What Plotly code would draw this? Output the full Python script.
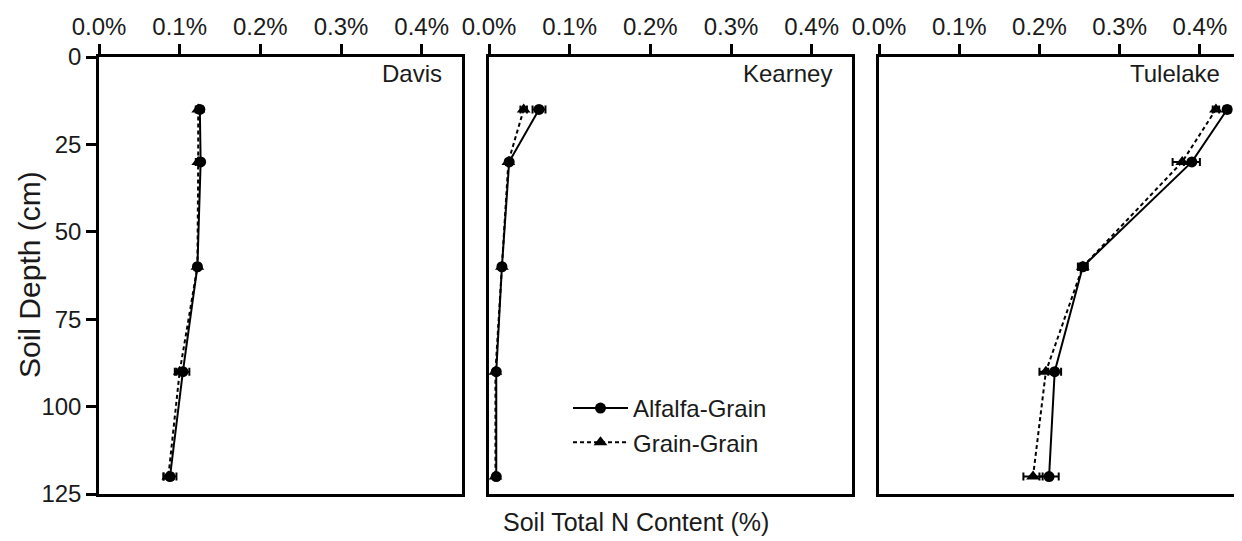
import plotly.graph_objects as go

depth = [15, 30, 60, 90, 120]
sites = ["Davis", "Kearney", "Tulelake"]

alfalfa = {
    "Davis":    [0.125, 0.126, 0.122, 0.104, 0.088],
    "Kearney":  [0.062, 0.025, 0.016, 0.009, 0.009],
    "Tulelake": [0.434, 0.390, 0.254, 0.219, 0.212],
}
alfalfa_err = {
    "Davis":    [0.003, 0.003, 0.003, 0.008, 0.008],
    "Kearney":  [0.008, 0.003, 0.002, 0.002, 0.002],
    "Tulelake": [0.004, 0.010, 0.006, 0.008, 0.012],
}
grain = {
    "Davis":    [0.123, 0.123, 0.122, 0.100, 0.086],
    "Kearney":  [0.043, 0.024, 0.016, 0.008, 0.008],
    "Tulelake": [0.420, 0.378, 0.254, 0.208, 0.192],
}
grain_err = {
    "Davis":    [0.003, 0.003, 0.003, 0.006, 0.006],
    "Kearney":  [0.004, 0.003, 0.002, 0.002, 0.002],
    "Tulelake": [0.004, 0.012, 0.006, 0.008, 0.012],
}

tick_vals = [0.0, 0.1, 0.2, 0.3, 0.4]
tick_text = ["0.0%", "0.1%", "0.2%", "0.3%", "0.4%"]
y_ticks = [0, 25, 50, 75, 100, 125]

# page body has an 8px margin; work in screen pixels and shift
OFF = 8
W, H = 1242 - OFF, 541 - OFF
T = 57 - OFF
PB = 494 - OFF          # plot bottom in figure pixels
B = H - PB
PH = PB - T


def px(x):
    return (x - OFF) / W


def py(y):
    return (PB - (y - OFF)) / PH


domains = [(px(99), px(462)), (px(489), px(852)), (px(879), px(1240))]

fig = go.Figure()
font_family = "Liberation Sans, Arial, sans-serif"
txt = "#1a1a1a"

for i, s in enumerate(sites):
    xa = "x" if i == 0 else f"x{i+1}"
    ya = "y" if i == 0 else f"y{i+1}"
    fig.add_trace(go.Scatter(
        x=alfalfa[s], y=depth, xaxis=xa, yaxis=ya,
        mode="lines+markers", name="Alfalfa-Grain", showlegend=(i == 1),
        line=dict(color="black", width=2),
        marker=dict(symbol="circle", size=11, color="black"),
        error_x=dict(type="data", array=alfalfa_err[s], color="black", thickness=2, width=4),
    ))
    fig.add_trace(go.Scatter(
        x=grain[s], y=depth, xaxis=xa, yaxis=ya,
        mode="lines+markers", name="Grain-Grain", showlegend=(i == 1),
        line=dict(color="black", width=2, dash="4px,3px"),
        marker=dict(symbol="triangle-up", size=12, color="black"),
        error_x=dict(type="data", array=grain_err[s], color="black", thickness=2, width=4),
    ))

x_common = dict(
    range=[0, 0.45], side="top", tickvals=tick_vals, ticktext=tick_text,
    ticks="outside", ticklen=10, tickwidth=2.5, tickcolor="black",
    showline=True, linecolor="black", linewidth=2.5, mirror=True,
    showgrid=False, zeroline=False, automargin=False,
    tickfont=dict(size=24, color=txt, family=font_family),
)
y_common = dict(
    range=[125, 0], tickvals=y_ticks, showgrid=False, zeroline=False,
    showline=True, linecolor="black", linewidth=2.5, mirror=True,
    automargin=False, tickcolor="black", tickwidth=2.5, ticklen=10,
    tickfont=dict(size=24, color=txt, family=font_family),
)

layout = dict(
    width=W, height=H,
    plot_bgcolor="white", paper_bgcolor="white",
    margin=dict(l=0, r=0, t=T, b=B),
    font=dict(family=font_family, color=txt),
    legend=dict(
        x=px(568), y=py(386), xanchor="left", yanchor="top",
        bgcolor="rgba(0,0,0,0)", font=dict(size=24, color=txt, family=font_family),
        tracegroupgap=2, itemwidth=55,
    ),
    showlegend=True,
)
for i in range(3):
    xk = "xaxis" if i == 0 else f"xaxis{i+1}"
    yk = "yaxis" if i == 0 else f"yaxis{i+1}"
    ax = dict(x_common)
    ax["domain"] = list(domains[i])
    ax["anchor"] = "y" if i == 0 else f"y{i+1}"
    layout[xk] = ax
    ay = dict(y_common)
    ay["anchor"] = "x" if i == 0 else f"x{i+1}"
    if i == 0:
        ay["ticks"] = "outside"
        ay["showticklabels"] = True
    else:
        ay["ticks"] = ""
        ay["showticklabels"] = False
        ay["matches"] = "y"
    layout[yk] = ay

fig.update_layout(**layout)

for i, s in enumerate(sites):
    fig.add_annotation(
        x=domains[i][1] - 18 / W, y=1 - 1 / PH, xref="paper", yref="paper",
        text=s, showarrow=False, xanchor="right", yanchor="top",
        font=dict(size=24, color=txt, family=font_family),
    )

fig.add_annotation(
    x=px(636), y=py(522), xref="paper", yref="paper",
    text="Soil Total N Content (%)", showarrow=False, xanchor="center", yanchor="middle",
    font=dict(size=25, color=txt, family=font_family),
)
fig.add_annotation(
    x=px(29), y=py(275), xref="paper", yref="paper",
    text="Soil Depth (cm)", showarrow=False, xanchor="center", yanchor="middle",
    textangle=-90,
    font=dict(size=30, color=txt, family=font_family),
)

fig.write_html("out.html")
